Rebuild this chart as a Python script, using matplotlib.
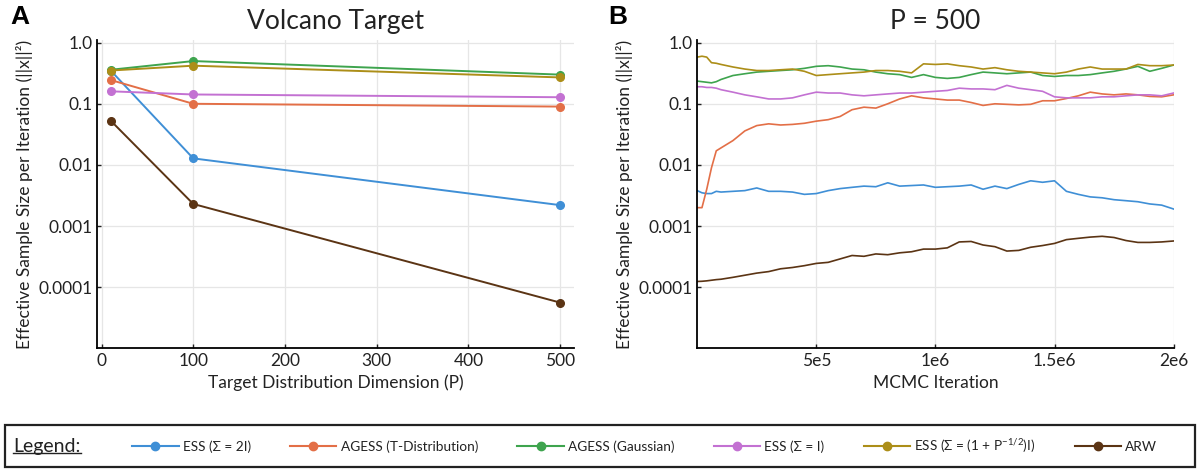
import numpy as np
import matplotlib
matplotlib.use("Agg")
import matplotlib.pyplot as plt
from matplotlib.lines import Line2D
from matplotlib.patches import Rectangle

plt.rcParams['font.family'] = ['Lato', 'DejaVu Sans']
plt.rcParams['mathtext.default'] = 'regular'

# series names and colours
labels = ["ESS (Σ = 2I)", "AGESS (T-Distribution)", "AGESS (Gaussian)",
          "ESS (Σ = I)", "ESS (Σ = (1 + P$^{-1/2}$)I)", "ARW"]
colors = ["#3F8FD6", "#E36F47", "#3EA44E", "#C371D2", "#AC8E18", "#5B3414"]

# Panel A: ESS per iteration vs dimension
dims = [10, 100, 500]
ess_2i = [0.35, 0.0128, 0.0022]
agess_t = [0.245, 0.100, 0.090]
agess_gauss = [0.36, 0.50, 0.30]
ess_i = [0.16, 0.142, 0.128]
ess_scaled = [0.35, 0.42, 0.27]
arw = [0.053, 0.0023, 0.000056]

# Panel B: running ESS per iteration, P = 500
iters = [0, 20e3, 40e3, 60e3, 80e3, 100e3] + [150e3 + 50e3 * i for i in range(38)]
b_ess_2i = [0.0038, 0.0035, 0.0034, 0.0034, 0.0037, 0.0036, 0.0037, 0.0038, 0.0042,
            0.0037, 0.0037, 0.0036, 0.0033, 0.0034, 0.0038, 0.0041, 0.0043, 0.0045,
            0.0044, 0.0051, 0.0045, 0.0046, 0.0047, 0.0043, 0.0044, 0.0045, 0.0047,
            0.0040, 0.0045, 0.0041, 0.0048, 0.0055, 0.0052, 0.0055, 0.0037, 0.0033,
            0.0030, 0.0029, 0.0027, 0.0026, 0.0025, 0.0023, 0.0022, 0.0019]
b_agess_t = [0.002, 0.002, 0.004, 0.009, 0.017, 0.019, 0.025, 0.036, 0.044, 0.047,
             0.045, 0.046, 0.048, 0.052, 0.055, 0.062, 0.080, 0.088, 0.085, 0.100,
             0.120, 0.135, 0.125, 0.120, 0.115, 0.115, 0.105, 0.094, 0.100, 0.098,
             0.096, 0.098, 0.112, 0.112, 0.122, 0.135, 0.155, 0.145, 0.140, 0.145,
             0.140, 0.132, 0.130, 0.140]
b_agess_gauss = [0.235, 0.23, 0.225, 0.22, 0.23, 0.25, 0.29, 0.31, 0.33, 0.34, 0.35,
                 0.36, 0.38, 0.41, 0.42, 0.40, 0.37, 0.36, 0.33, 0.31, 0.30, 0.27,
                 0.30, 0.27, 0.26, 0.27, 0.30, 0.33, 0.32, 0.31, 0.32, 0.33, 0.29,
                 0.28, 0.29, 0.29, 0.30, 0.32, 0.34, 0.37, 0.41, 0.34, 0.38, 0.43]
b_ess_i = [0.19, 0.19, 0.185, 0.185, 0.18, 0.17, 0.155, 0.14, 0.13, 0.12, 0.12,
           0.125, 0.14, 0.155, 0.15, 0.15, 0.14, 0.135, 0.14, 0.145, 0.15, 0.15,
           0.155, 0.16, 0.165, 0.18, 0.175, 0.175, 0.17, 0.20, 0.18, 0.17, 0.16,
           0.13, 0.125, 0.125, 0.125, 0.13, 0.13, 0.135, 0.14, 0.14, 0.135, 0.15]
b_ess_scaled = [0.58, 0.60, 0.58, 0.47, 0.46, 0.44, 0.40, 0.37, 0.35, 0.35, 0.36,
                0.37, 0.34, 0.29, 0.30, 0.31, 0.32, 0.33, 0.35, 0.35, 0.34, 0.32,
                0.45, 0.44, 0.45, 0.42, 0.40, 0.37, 0.39, 0.36, 0.34, 0.33, 0.32,
                0.31, 0.33, 0.37, 0.40, 0.37, 0.37, 0.37, 0.44, 0.42, 0.42, 0.43]
b_arw = [1.24e-4, 1.25e-4, 1.27e-4, 1.30e-4, 1.33e-4, 1.35e-4, 1.45e-4, 1.57e-4,
         1.70e-4, 1.80e-4, 2.0e-4, 2.1e-4, 2.25e-4, 2.45e-4, 2.55e-4, 2.9e-4,
         3.3e-4, 3.2e-4, 3.5e-4, 3.4e-4, 3.65e-4, 3.8e-4, 4.2e-4, 4.2e-4, 4.4e-4,
         5.5e-4, 5.6e-4, 4.9e-4, 4.6e-4, 3.9e-4, 4.0e-4, 4.5e-4, 4.8e-4, 5.2e-4,
         6.0e-4, 6.3e-4, 6.6e-4, 6.8e-4, 6.5e-4, 5.8e-4, 5.4e-4, 5.4e-4, 5.5e-4, 5.7e-4]

a_series = [ess_2i, agess_t, agess_gauss, ess_i, ess_scaled, arw]
b_series = [b_ess_2i, b_agess_t, b_agess_gauss, b_ess_i, b_ess_scaled, b_arw]

yticks = [1e-4, 1e-3, 1e-2, 1e-1, 1.0]
yticklabels = ["0.0001", "0.001", "0.01", "0.1", "1.0"]
ylab = "Effective Sample Size per Iteration (||x||²)"

fig = plt.figure(figsize=(12, 4.72), dpi=100)
axA = fig.add_axes([0.081, 0.262, 0.397, 0.653])
axB = fig.add_axes([0.581, 0.262, 0.397, 0.653])


def style(ax):
    ax.set_yscale('log')
    ax.set_ylim(1e-5, 1.1)
    ax.set_yticks(yticks)
    ax.set_yticklabels(yticklabels)
    ax.minorticks_off()
    ax.grid(True, color='#e6e6e6', lw=0.9)
    ax.set_axisbelow(True)
    for s in ['top', 'right']:
        ax.spines[s].set_visible(False)
    for s in ['left', 'bottom']:
        ax.spines[s].set_linewidth(1.3)
    ax.tick_params(direction='in', length=3, width=1, labelsize=12.5, colors='#222222')
    ax.set_ylabel(ylab, fontsize=12.5, color='#222222', labelpad=4)


for vals, c in zip(a_series, colors):
    axA.plot(dims, vals, color=c, lw=1.4, marker='o', ms=5.5)
style(axA)
axA.set_xlim(-4.7, 514.7)
axA.set_xticks([0, 100, 200, 300, 400, 500])
axA.set_xlabel("Target Distribution Dimension (P)", fontsize=12.5, color='#222222')
axA.set_title("Volcano Target", fontsize=19, color='#222222', pad=8)

for vals, c in zip(b_series, colors):
    axB.plot(iters, vals, color=c, lw=1.2)
style(axB)
axB.set_xlim(0, 2e6)
axB.set_xticks([5e5, 1e6, 1.5e6, 2e6])
axB.set_xticklabels(["5e5", "1e6", "1.5e6", "2e6"])
axB.set_xlabel("MCMC Iteration", fontsize=12.5, color='#222222')
axB.set_title("P = 500", fontsize=19, color='#222222', pad=8)

fig.text(0.009, 0.965, "A", fontsize=19, fontweight='bold', family='Liberation Sans', va='center')
fig.text(0.507, 0.965, "B", fontsize=19, fontweight='bold', family='Liberation Sans', va='center')

# legend box
fig.add_artist(Rectangle((0.004, 0.011), 0.992, 0.089, transform=fig.transFigure,
                         fill=False, edgecolor='#222222', lw=1.6))
lt = fig.text(0.011, 0.055, "Legend:", fontsize=14, va='center', color='#222222')
fig.canvas.draw()
bb = lt.get_window_extent().transformed(fig.transFigure.inverted())
fig.add_artist(Line2D([bb.x0, bb.x1], [bb.y0 + 0.004, bb.y0 + 0.004],
                      transform=fig.transFigure, color='#222222', lw=1.0))

handles = [Line2D([], [], color=c, lw=1.5, marker='o', ms=6) for c in colors]
fig.legend(handles, labels, loc='center left', bbox_to_anchor=(0.1, 0.055), ncol=6,
           frameon=False, fontsize=9.8, handlelength=3.4, handletextpad=0.3,
           columnspacing=2.9, labelcolor='#222222')

fig.savefig("out.png", dpi=100)
